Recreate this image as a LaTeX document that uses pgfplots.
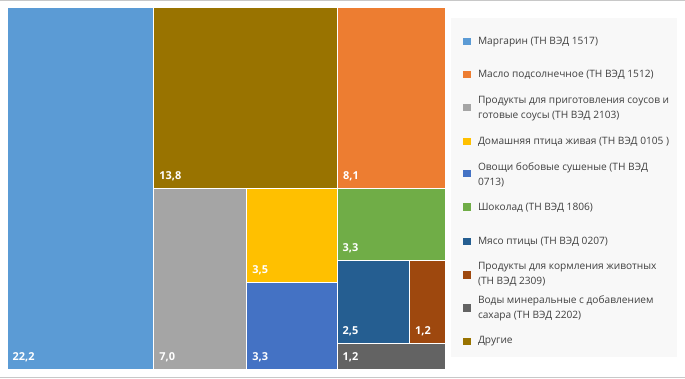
\documentclass[border=0pt]{standalone}
\usepackage{pgfplots}
\pgfplotsset{compat=1.18}
\usepackage{fontspec}
\setmainfont{Open Sans}
\definecolor{cMarg}{HTML}{5B9BD5}
\definecolor{cMaslo}{HTML}{ED7D31}
\definecolor{cSous}{HTML}{A5A5A5}
\definecolor{cPtica}{HTML}{FFC000}
\definecolor{cOvosh}{HTML}{4472C4}
\definecolor{cShok}{HTML}{70AD47}
\definecolor{cMyaso}{HTML}{255E91}
\definecolor{cKorm}{HTML}{9E480E}
\definecolor{cVody}{HTML}{636363}
\definecolor{cDrug}{HTML}{997300}
\definecolor{legbg}{HTML}{F8F8F8}
\definecolor{frame}{HTML}{C8C8C8}
\definecolor{legtext}{HTML}{404040}
\begin{document}
\begin{tikzpicture}
\begin{axis}[
  width=685bp, height=379bp, scale only axis,
  xmin=0, xmax=685, ymin=0, ymax=379, y dir=reverse,
  hide axis, clip=false,
]
% outer frame lines
\addplot[draw=frame, line width=1bp] coordinates {(0,0.5) (685,0.5)};
\addplot[draw=frame, line width=1bp] coordinates {(0,378.5) (685,378.5)};
% treemap tiles (pixel layout)
\addplot[fill=cMarg, draw=white, line width=1bp] coordinates {(7,8) (153.5,8) (153.5,370) (7,370)} -- cycle;
\addplot[fill=cMaslo, draw=white, line width=1bp] coordinates {(337.5,8) (445.5,8) (445.5,188.5) (337.5,188.5)} -- cycle;
\addplot[fill=cSous, draw=white, line width=1bp] coordinates {(153.5,188.5) (246.5,188.5) (246.5,370) (153.5,370)} -- cycle;
\addplot[fill=cPtica, draw=white, line width=1bp] coordinates {(246.5,188.5) (337,188.5) (337,282.5) (246.5,282.5)} -- cycle;
\addplot[fill=cOvosh, draw=white, line width=1bp] coordinates {(246.5,282.5) (337,282.5) (337,370) (246.5,370)} -- cycle;
\addplot[fill=cShok, draw=white, line width=1bp] coordinates {(337,188.5) (445.5,188.5) (445.5,260.5) (337,260.5)} -- cycle;
\addplot[fill=cMyaso, draw=white, line width=1bp] coordinates {(337,260.5) (409.5,260.5) (409.5,343.5) (337,343.5)} -- cycle;
\addplot[fill=cKorm, draw=white, line width=1bp] coordinates {(409.5,260.5) (445.5,260.5) (445.5,343.5) (409.5,343.5)} -- cycle;
\addplot[fill=cVody, draw=white, line width=1bp] coordinates {(337,343.5) (445.5,343.5) (445.5,370) (337,370)} -- cycle;
\addplot[fill=cDrug, draw=white, line width=1bp] coordinates {(153.5,8) (337.5,8) (337.5,188.5) (153.5,188.5)} -- cycle;
% value labels
\begin{scope}[every node/.style={anchor=west, text=white, font=\fontsize{11}{12}\selectfont\bfseries, inner sep=0pt}]
\node at (axis cs:12,358) {22,2};
\node at (axis cs:159,176.5) {13,8};
\node at (axis cs:343,176.5) {8,1};
\node at (axis cs:159,358) {7,0};
\node at (axis cs:252,270.5) {3,5};
\node at (axis cs:252,358) {3,3};
\node at (axis cs:342.5,248.5) {3,3};
\node at (axis cs:342.5,331.5) {2,5};
\node at (axis cs:415,331.5) {1,2};
\node at (axis cs:342.5,357.5) {1,2};
\end{scope}
% legend box
\addplot[fill=legbg, draw=none] coordinates {(451,18) (677,18) (677,358) (451,358)} -- cycle;
% legend swatches
\addplot[fill=cMarg, draw=none] coordinates {(463,38) (471,38) (471,45.5) (463,45.5)} -- cycle;
\addplot[fill=cMaslo, draw=none] coordinates {(463,71) (471,71) (471,78.5) (463,78.5)} -- cycle;
\addplot[fill=cSous, draw=none] coordinates {(463,104) (471,104) (471,111.5) (463,111.5)} -- cycle;
\addplot[fill=cPtica, draw=none] coordinates {(463,138) (471,138) (471,145.5) (463,145.5)} -- cycle;
\addplot[fill=cOvosh, draw=none] coordinates {(463,170) (471,170) (471,177.5) (463,177.5)} -- cycle;
\addplot[fill=cShok, draw=none] coordinates {(463,203.5) (471,203.5) (471,211) (463,211)} -- cycle;
\addplot[fill=cMyaso, draw=none] coordinates {(463,238) (471,238) (471,245.5) (463,245.5)} -- cycle;
\addplot[fill=cKorm, draw=none] coordinates {(463,271.5) (471,271.5) (471,279) (463,279)} -- cycle;
\addplot[fill=cVody, draw=none] coordinates {(463,304.5) (471,304.5) (471,312) (463,312)} -- cycle;
\addplot[fill=cDrug, draw=none] coordinates {(463,338) (471,338) (471,345.5) (463,345.5)} -- cycle;
% legend texts
\begin{scope}[every node/.style={anchor=west, text=legtext, font=\fontsize{10.2}{15}\selectfont, inner sep=0pt, align=left}]
\node at (axis cs:478,42) {Маргарин (ТН ВЭД 1517)};
\node at (axis cs:478,75) {Масло подсолнечное (ТН ВЭД 1512)};
\node at (axis cs:478,108.5) {Продукты для приготовления соусов и\\готовые соусы (ТН ВЭД 2103)};
\node at (axis cs:478,142) {Домашняя птица живая (ТН ВЭД 0105 )};
\node at (axis cs:478,175.5) {Овощи бобовые сушеные (ТН ВЭД\\0713)};
\node at (axis cs:478,208) {Шоколад (ТН ВЭД 1806)};
\node at (axis cs:478,242) {Мясо птицы (ТН ВЭД 0207)};
\node at (axis cs:478,275) {Продукты для кормления животных\\(ТН ВЭД 2309)};
\node at (axis cs:478,309) {Воды минеральные с добавлением\\сахара (ТН ВЭД 2202)};
\node at (axis cs:478,342) {Другие};
\end{scope}
\end{axis}
\end{tikzpicture}
\end{document}
